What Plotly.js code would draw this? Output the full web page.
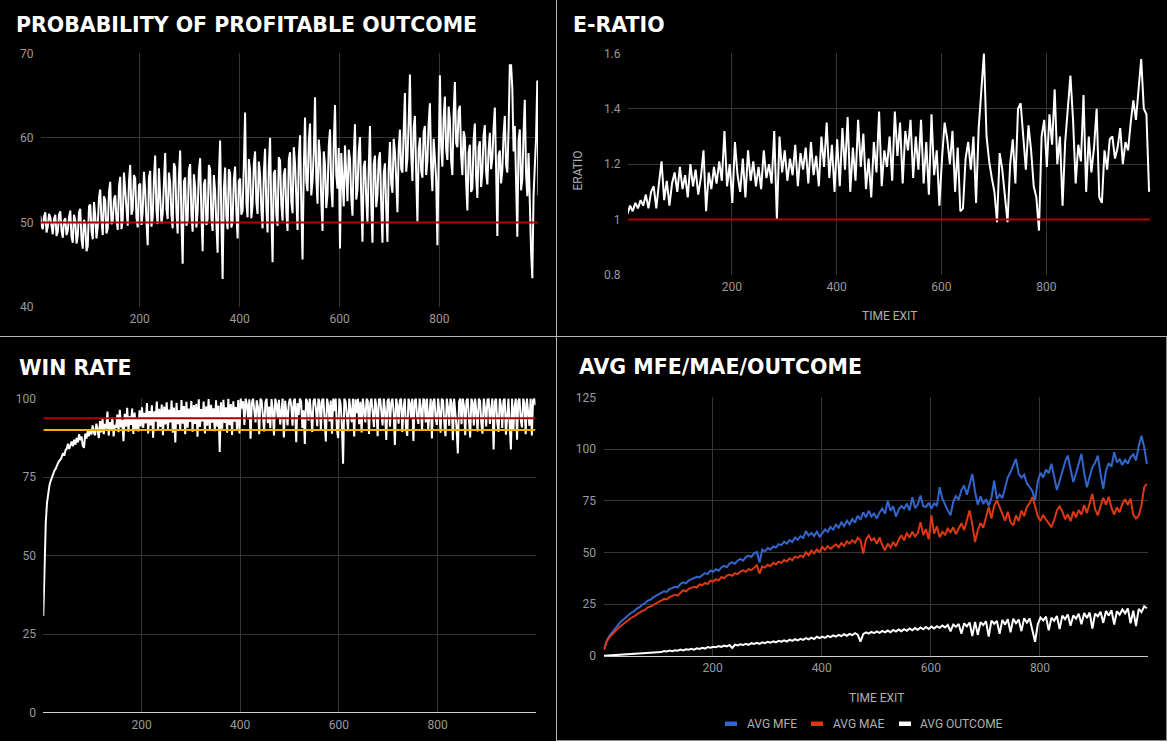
<!DOCTYPE html>
<html>
<head>
<meta charset="utf-8">
<script src="https://cdn.plot.ly/plotly-3.0.1.min.js"></script>
<style>
html,body{margin:0;padding:0;background:#000;}
#chart{width:1167px;height:741px;}
</style>
</head>
<body>
<div id="chart"></div>
<script>
// ---------- DATA ----------
// Panels 1 and 3 are sampled every 2.5 bars, panels 2 and 4 every 5 bars, starting at bar 1
var FINE_STEP = 2.5, FINE_POINTS = 400;
var COARSE_STEP = 5, COARSE_POINTS = 200;
var TIME_START = 1;

var probProfitable = [
50.8,49.6,49.2,50.7,51.2,48.8,49.5,51.0,50.6,49.3,48.6,50.4,50.9,48.4,48.9,50.9,51.3,49.0,48.2,50.2,50.5,48.5,49.0,50.6,
51.4,48.3,47.6,50.9,50.2,47.5,48.4,51.2,51.6,48.0,46.9,50.3,49.8,46.6,47.2,51.9,
52.1,49.0,48.0,52.4,50.8,48.1,49.5,52.9,53.9,50.2,48.5,53.1,52.6,48.7,49.3,53.6,54.8,49.8,50.1,52.7,
53.2,50.4,49.1,54.2,55.4,49.2,50.3,55.9,53.7,50.8,49.6,54.9,56.8,50.9,51.5,55.6,55.2,50.6,49.4,54.4,
54.6,49.7,51.2,56.0,53.8,50.2,47.3,55.3,56.1,49.5,50.6,55.1,57.9,51.4,49.8,56.4,53.4,49.9,51.0,55.8,
58.2,51.6,50.4,55.9,54.7,50.9,49.3,57.0,56.5,51.2,48.7,55.5,58.5,50.3,45.1,54.8,55.3,49.6,50.2,56.2,
56.9,50.8,48.9,55.7,54.2,49.4,51.3,56.1,57.6,51.0,46.6,54.5,55.1,49.7,50.4,56.8,56.3,50.5,49.0,55.6,
53.7,49.8,46.4,55.4,59.7,50.2,43.3,53.9,56.5,50.7,49.2,56.3,55.8,49.4,50.1,55.1,56.6,51.2,48.1,54.9,
55.2,50.9,51.4,56.8,63.0,52.3,50.6,57.5,56.2,50.5,52.1,56.9,58.4,52.4,51.0,57.2,55.7,51.6,49.3,55.9,
58.7,51.8,48.8,56.6,60.0,51.2,45.3,55.8,56.2,50.9,49.6,57.7,57.3,52.1,50.2,55.6,56.4,51.3,49.0,57.4,
58.3,52.4,51.1,58.9,57.0,53.0,49.1,57.8,60.3,52.2,45.6,56.4,62.4,54.8,53.7,59.6,61.7,53.2,54.9,58.3,
64.8,55.3,52.2,59.8,58.0,52.6,49.0,58.4,56.9,51.7,53.3,59.0,61.0,54.1,51.8,59.3,63.9,55.6,54.0,58.8,
46.9,58.2,55.2,51.9,59.1,54.7,52.5,58.6,57.5,53.0,50.8,57.9,61.6,52.7,53.8,58.4,60.1,52.9,47.7,56.6,
57.3,52.8,49.9,56.4,61.4,52.3,47.6,56.9,57.9,51.8,53.2,57.4,58.3,52.1,47.6,55.8,57.0,51.6,47.7,56.3,
59.5,54.6,53.5,59.9,58.4,55.2,51.2,58.7,61.0,56.3,55.9,60.8,65.3,56.0,57.6,61.9,67.5,58.1,54.9,61.2,
62.6,55.8,50.1,58.6,60.0,56.1,55.3,60.7,61.4,55.6,57.3,61.8,64.1,56.5,53.7,59.9,57.8,55.2,47.3,59.4,
67.4,58.9,56.6,62.4,64.9,58.6,57.4,63.7,62.1,57.3,55.6,62.9,66.6,59.4,58.9,63.2,63.8,57.9,55.6,60.8,
60.0,54.8,51.4,58.3,59.2,53.6,54.0,59.8,61.7,55.4,52.9,58.9,59.6,54.2,56.0,60.3,61.5,55.9,54.5,58.5,
60.6,56.3,57.6,61.2,63.6,56.4,48.4,57.9,58.5,54.6,56.2,60.4,62.6,56.8,55.9,61.0,68.6,68.6,65.8,58.4,
61.4,54.9,48.3,59.7,61.0,53.8,55.1,60.6,64.5,55.7,53.1,58.2,50.0,46.6,43.4,53.2,56.6,60.0,66.8,53.2
];

var eRatio = [
1.02,1.05,1.03,1.06,1.04,1.07,1.05,1.09,1.04,1.10,
1.12,1.04,1.13,1.21,1.07,1.14,1.05,1.13,1.17,1.10,
1.19,1.11,1.16,1.08,1.20,1.12,1.18,1.09,1.15,1.25,
1.03,1.17,1.11,1.19,1.13,1.21,1.14,1.32,1.12,1.20,
1.06,1.28,1.16,1.10,1.22,1.08,1.25,1.14,1.21,1.12,
1.19,1.11,1.25,1.15,1.20,1.13,1.32,1.00,1.30,1.17,
1.25,1.14,1.22,1.16,1.27,1.12,1.24,1.18,1.26,1.13,
1.28,1.16,1.23,1.12,1.30,1.19,1.35,1.15,1.27,1.10,
1.29,1.12,1.33,1.18,1.37,1.10,1.26,1.14,1.36,1.19,
1.31,1.11,1.22,1.08,1.28,1.17,1.39,1.12,1.25,1.19,
1.30,1.14,1.39,1.23,1.35,1.13,1.32,1.25,1.36,1.15,
1.30,1.18,1.36,1.13,1.28,1.09,1.38,1.16,1.25,1.05,
1.22,1.35,1.29,1.20,1.32,1.10,1.26,1.03,1.04,1.22,
1.28,1.18,1.30,1.06,1.33,1.45,1.60,1.30,1.21,1.15,
1.10,0.99,1.24,1.18,1.08,0.99,1.20,1.29,1.13,1.40,
1.42,1.30,1.18,1.34,1.25,1.12,1.08,0.96,1.30,1.36,
1.19,1.38,1.27,1.47,1.20,1.30,1.05,1.28,1.40,1.52,
1.36,1.13,1.27,1.21,1.45,1.10,1.30,1.17,1.26,1.40,
1.08,1.06,1.25,1.18,1.29,1.30,1.22,1.26,1.33,1.20,
1.28,1.25,1.35,1.43,1.36,1.48,1.58,1.40,1.38,1.10
];

var winRate = [
30.8,50.0,60.5,66.8,70.2,72.4,73.8,75.0,76.0,77.0,77.6,78.8,79.5,80.2,80.6,81.5,82.6,81.8,83.5,84.0,
85.6,83.9,85.2,86.3,84.8,86.9,85.3,87.4,86.0,88.6,86.7,87.9,85.0,84.3,88.8,87.2,89.6,88.0,90.2,88.5,
91.4,89.0,88.3,92.0,90.1,87.4,92.8,89.2,93.6,88.6,91.9,90.4,95.8,88.2,92.5,89.8,94.0,87.9,91.6,90.6,
94.9,89.3,96.4,90.8,93.2,86.4,95.1,91.0,97.0,89.4,94.3,91.6,96.8,88.7,95.5,90.2,93.8,89.5,96.2,91.1,
97.2,90.6,95.4,92.1,98.5,88.9,96.0,91.4,97.8,87.5,95.9,92.6,99.0,89.8,96.7,90.9,98.1,88.3,97.4,91.7,
98.8,90.2,96.5,92.4,99.3,89.1,97.1,86.0,98.6,91.8,96.3,89.7,99.5,92.0,97.6,88.6,98.9,90.7,96.8,92.5,
99.2,89.4,97.9,91.9,98.3,87.8,99.7,90.9,96.6,92.7,99.0,88.9,97.5,91.3,99.8,90.0,98.0,92.3,96.9,89.6,
99.4,91.0,97.7,83.0,98.8,90.4,99.6,92.2,97.2,89.1,99.9,91.5,98.2,88.4,99.1,92.6,97.3,90.3,99.5,88.9,
100,96.8,99.1,91.6,100,98.2,93.4,99.7,87.2,98.4,100,95.1,92.4,99.4,97.3,88.6,100,99.2,94.0,89.5,
98.7,100,92.1,97.4,90.5,99.8,96.3,88.2,100,98.1,93.9,99.6,91.7,97.0,100,87.6,99.3,95.8,91.4,98.4,
100,97.6,91.3,99.1,100,86.1,98.5,94.7,100,99.0,90.6,96.2,85.5,100,98.8,92.9,100,95.4,89.3,99.2,
100,96.7,91.2,100,98.6,89.9,99.5,100,93.1,86.3,100,97.8,92.7,99.3,88.8,100,96.0,100,90.1,87.4,
100,98.3,91.5,79.2,100,99.0,94.6,89.6,100,97.1,92.5,100,87.9,99.7,95.3,100,91.8,98.9,89.2,100,
96.4,92.4,100,99.3,88.7,98.5,100,93.6,90.9,100,97.2,88.0,99.6,100,94.8,91.4,100,96.1,86.8,99.2,
100,91.0,98.6,100,95.5,85.2,100,97.9,92.0,99.4,100,89.3,96.8,100,90.6,88.1,100,98.5,93.7,100,
86.5,99.1,100,94.2,91.9,100,97.0,89.8,100,99.5,92.4,100,90.2,96.6,100,87.3,98.9,100,93.8,91.6,
100,96.1,89.1,100,99.4,92.5,88.0,100,97.3,91.3,100,98.7,86.7,100,95.0,90.7,82.5,99.0,100,91.8,
100,97.5,88.3,99.4,100,93.6,87.6,100,98.8,91.4,100,95.9,89.5,100,99.2,92.3,88.8,100,97.0,91.1,
99.7,100,91.9,96.4,100,83.8,98.9,100,92.2,89.4,100,97.6,90.6,99.4,100,88.5,95.2,100,92.0,83.8,
100,89.7,97.3,100,86.9,99.2,100,93.1,90.8,100,98.4,88.6,100,96.5,91.3,100,88.2,99.5,100,97.8
];
var winRateRedLine = 93.7;
var winRateGoldLine = 90;
var probBreakEven = 50;
var eRatioBreakEven = 1;

var avgMFE = [
3.2,7.5,9.8,11.6,13.4,14.9,16.4,17.5,18.9,19.8,
20.9,21.6,22.9,23.6,24.8,25.4,26.8,27.2,28.3,28.9,
29.8,30.5,31.3,31.0,32.4,32.8,33.5,33.2,34.8,35.6,
35.1,36.4,36.9,37.5,38.3,38.0,39.2,40.1,39.6,41.3,
40.7,41.9,41.2,42.8,43.6,42.9,44.7,45.3,44.6,46.2,
46.9,46.1,47.8,48.5,47.9,49.6,50.3,45.2,51.4,50.6,
52.2,51.5,53.0,52.4,54.1,53.6,55.2,54.3,56.0,55.1,
57.3,56.2,58.0,57.1,60.4,58.2,59.5,58.0,60.1,57.8,
59.3,61.2,60.0,62.4,61.1,63.5,62.0,64.6,62.8,65.4,
63.6,66.3,64.5,67.8,65.9,69.5,67.0,70.2,67.4,68.8,
66.5,69.4,71.3,68.7,75.1,70.2,72.4,67.3,70.8,72.5,
71.2,73.6,70.4,76.8,71.5,73.2,77.6,72.4,72.0,74.1,
71.3,73.8,72.5,81.6,76.2,72.8,70.4,68.0,74.5,77.3,
75.6,80.2,82.4,78.0,83.5,88.0,79.4,73.1,77.2,73.5,
75.8,72.6,76.4,84.8,75.9,78.1,76.3,82.1,86.4,88.9,
92.5,95.3,88.0,86.2,87.6,83.4,81.7,79.8,75.2,84.5,
88.6,86.3,90.1,88.4,92.9,85.7,80.2,84.6,89.3,93.8,
96.9,89.5,84.1,88.2,93.6,97.7,88.4,81.6,86.5,91.2,
93.4,96.9,88.0,80.8,89.7,93.2,91.5,98.5,93.6,95.1,
92.3,94.8,93.0,96.2,97.5,94.6,101.4,106.5,100.9,92.9
];

var avgMAE = [
3.1,7.0,9.0,10.6,12.1,13.3,14.4,15.5,16.6,17.4,
18.5,19.2,20.1,20.7,21.8,22.3,23.5,23.9,24.8,25.4,
26.2,26.8,27.6,27.3,28.5,29.1,29.6,29.2,30.5,31.8,
31.2,32.4,32.9,33.5,33.1,34.6,34.2,35.3,34.8,36.4,
36.0,37.1,36.5,38.2,37.6,38.9,39.4,38.8,40.1,39.6,
40.8,41.4,40.7,42.0,41.5,42.6,43.9,39.8,43.3,42.7,
44.1,43.4,45.0,44.2,45.6,45.0,46.4,45.7,47.2,46.3,
48.0,47.4,48.6,47.8,50.2,48.7,50.9,49.6,51.5,50.2,
52.7,51.4,53.1,51.8,52.7,54.0,52.5,54.6,53.2,55.4,
54.3,56.0,54.7,57.1,55.9,49.5,56.3,58.3,55.8,56.9,
54.2,57.3,53.5,51.0,54.3,52.4,55.1,53.0,56.2,58.4,
55.9,59.6,57.2,60.1,57.8,59.4,64.7,58.5,61.3,56.4,
68.0,59.2,62.7,57.4,60.0,58.6,61.5,59.8,62.2,58.9,
61.6,64.2,60.8,66.1,70.4,63.5,55.1,60.7,64.3,62.0,
67.8,72.0,66.5,72.6,75.2,71.8,69.3,65.4,69.7,64.6,
63.1,67.9,65.2,70.3,67.6,72.1,73.8,76.8,72.5,67.4,
65.3,68.2,66.0,64.4,62.3,65.8,70.4,72.3,69.9,66.1,
68.5,65.2,69.8,67.0,70.6,68.3,72.9,69.1,74.2,78.4,
71.0,68.0,72.4,76.5,73.1,77.0,71.6,68.4,71.9,69.5,
73.6,75.8,73.0,76.1,68.2,66.5,67.9,72.8,81.6,83.2
];

var avgOutcome = [
0.1,0.2,0.3,0.35,0.5,0.6,0.6,0.8,0.9,0.8,
1.1,1.0,1.3,1.2,1.5,1.4,1.7,1.5,1.9,1.8,
2.1,1.9,2.4,2.2,2.6,2.3,2.8,2.6,3.1,2.7,
3.2,3.0,3.5,3.1,3.7,3.4,4.0,3.6,4.3,4.0,
4.5,4.2,4.8,4.4,5.0,4.6,5.3,3.9,5.5,5.1,
5.7,5.3,5.9,5.4,6.2,5.8,6.4,5.9,6.6,6.2,
6.9,6.4,7.1,6.6,7.3,6.9,7.6,7.0,7.9,7.3,
8.1,7.5,8.3,7.8,8.6,8.0,8.9,8.2,9.3,8.6,
9.4,8.8,9.7,9.1,10.0,9.4,10.2,9.6,10.5,9.8,
10.7,10.1,11.0,10.3,6.9,10.6,11.4,10.8,11.7,11.1,
11.9,11.2,12.1,11.4,12.3,11.5,12.6,11.8,12.8,12.0,
13.0,12.2,13.3,12.4,13.5,12.7,13.8,12.9,14.0,13.1,
14.2,13.3,14.4,13.6,14.7,13.8,15.0,11.9,15.2,14.1,
15.5,10.8,15.8,14.3,16.2,9.6,16.5,10.2,16.3,15.0,
16.8,9.4,17.1,15.6,16.9,10.7,17.4,15.2,17.8,11.4,
18.0,15.8,17.6,12.0,18.3,16.1,18.1,12.6,6.9,15.4,
18.6,17.2,19.0,12.4,18.5,17.0,19.3,13.0,19.5,17.8,
20.1,14.6,19.6,18.0,20.4,15.3,20.8,18.4,21.0,13.3,
20.5,19.2,21.4,16.0,21.8,19.5,22.2,15.2,21.6,20.0,
22.5,20.6,23.0,15.8,21.9,14.5,22.8,21.2,24.0,23.1
];

var xTickVals = [200, 400, 600, 800];
var panelTitles = ["PROBABILITY OF PROFITABLE OUTCOME", "E-RATIO", "WIN RATE", "AVG MFE/MAE/OUTCOME"];
var seriesNames = ["AVG MFE", "AVG MAE", "AVG OUTCOME"];

// ---------- BUILD ----------
function timeAxis(step, n) {
  var a = [];
  for (var i = 0; i < n; i++) a.push(TIME_START + step * i);
  return a;
}
var timeFine = timeAxis(FINE_STEP, FINE_POINTS);
var timeCoarse = timeAxis(COARSE_STEP, COARSE_POINTS);
var xEnds = [1, 998];

var W = 1167, H = 741;
function px(x) { return x / W; }
function py(y) { return 1 - y / H; }

var WHITE = '#ffffff', DARKRED = '#b00000', GOLD = '#f2b100';
var BLUE = '#3366cc', RED = '#dc3912';

var traces = [
  {x: timeFine, y: probProfitable, xaxis: 'x', yaxis: 'y', mode: 'lines', line: {color: WHITE, width: 2}, name: 'Probability'},
  {x: xEnds, y: [probBreakEven, probBreakEven], xaxis: 'x', yaxis: 'y', mode: 'lines', line: {color: DARKRED, width: 2}, name: 'break even'},

  {x: timeCoarse, y: eRatio, xaxis: 'x2', yaxis: 'y2', mode: 'lines', line: {color: WHITE, width: 2}, name: 'ERATIO'},
  {x: xEnds, y: [eRatioBreakEven, eRatioBreakEven], xaxis: 'x2', yaxis: 'y2', mode: 'lines', line: {color: DARKRED, width: 2}, name: 'break even'},

  {x: timeFine, y: winRate, xaxis: 'x3', yaxis: 'y3', mode: 'lines', line: {color: WHITE, width: 2}, name: 'Win rate'},
  {x: xEnds, y: [winRateRedLine, winRateRedLine], xaxis: 'x3', yaxis: 'y3', mode: 'lines', line: {color: DARKRED, width: 2}, name: 'ref 1'},
  {x: xEnds, y: [winRateGoldLine, winRateGoldLine], xaxis: 'x3', yaxis: 'y3', mode: 'lines', line: {color: GOLD, width: 2}, name: 'ref 2'},

  {x: timeCoarse, y: avgMFE, xaxis: 'x4', yaxis: 'y4', mode: 'lines', line: {color: BLUE, width: 2}, name: seriesNames[0]},
  {x: timeCoarse, y: avgMAE, xaxis: 'x4', yaxis: 'y4', mode: 'lines', line: {color: RED, width: 2}, name: seriesNames[1]},
  {x: timeCoarse, y: avgOutcome, xaxis: 'x4', yaxis: 'y4', mode: 'lines', line: {color: WHITE, width: 2}, name: seriesNames[2]}
];

var tickFont = {family: 'Roboto, Arial, sans-serif', size: 12, color: '#9a9a9a'};
var GRID = '#353535';

function xAxis(domain, range, anchor) {
  return {domain: domain, range: range, anchor: anchor, tickmode: 'array', tickvals: xTickVals,
    showgrid: true, gridcolor: GRID, gridwidth: 1, zeroline: false, showline: false,
    ticks: 'outside', ticklen: 1, tickcolor: 'rgba(0,0,0,0)', tickfont: tickFont, fixedrange: true};
}
function yAxis(domain, range, tickvals, anchor, zl) {
  return {domain: domain, range: range, anchor: anchor, tickmode: 'array', tickvals: tickvals,
    showgrid: true, gridcolor: GRID, gridwidth: 1, zeroline: !!zl, zerolinecolor: '#cfcfcf', zerolinewidth: 1,
    showline: false, ticks: 'outside', ticklen: 4, tickcolor: 'rgba(0,0,0,0)', tickfont: tickFont, fixedrange: true};
}

var layout = {
  width: W, height: H,
  margin: {l: 0, r: 0, t: 0, b: 0},
  paper_bgcolor: '#000000', plot_bgcolor: '#000000',
  showlegend: false,
  xaxis: xAxis([px(40.8), px(538)], [2, 997.4], 'y'),
  yaxis: yAxis([py(307), py(53.3)], [39.99, 70.01], [40, 50, 60, 70], 'x'),
  xaxis2: xAxis([px(628), px(1150)], [2, 997.8], 'y2'),
  yaxis2: yAxis([py(275), py(53.3)], [0.7995, 1.6005], [0.8, 1, 1.2, 1.4, 1.6], 'x2'),
  xaxis3: xAxis([px(43.3), px(535.5)], [1, 998.4], 'y3'),
  yaxis3: yAxis([py(712.7), py(398.3)], [0, 100.05], [0, 25, 50, 75, 100], 'x3', true),
  xaxis4: xAxis([px(603.5), px(1148.4)], [0, 998.7], 'y4'),
  yaxis4: yAxis([py(656), py(397.3)], [0, 125.05], [0, 25, 50, 75, 100, 125], 'x4', true),
  shapes: [
    {type: 'line', xref: 'paper', yref: 'paper', x0: px(556.5), x1: px(556.5), y0: 0, y1: 1, line: {color: '#b4b4b4', width: 1}},
    {type: 'line', xref: 'paper', yref: 'paper', x0: 0, x1: 1, y0: py(336.5), y1: py(336.5), line: {color: '#b4b4b4', width: 1}},
    {type: 'line', xref: 'paper', yref: 'paper', x0: px(1166.5), x1: px(1166.5), y0: 0, y1: py(336.5), line: {color: '#8a8a8a', width: 1}},
    {type: 'line', xref: 'paper', yref: 'paper', x0: px(556.5), x1: 1, y0: py(740.5), y1: py(740.5), line: {color: '#8a8a8a', width: 1}},
    // legend swatches
    {type: 'rect', xref: 'paper', yref: 'paper', x0: px(725), x1: px(737), y0: py(726), y1: py(721.5), fillcolor: BLUE, line: {width: 0}},
    {type: 'rect', xref: 'paper', yref: 'paper', x0: px(811), x1: px(823), y0: py(726), y1: py(721.5), fillcolor: RED, line: {width: 0}},
    {type: 'rect', xref: 'paper', yref: 'paper', x0: px(899), x1: px(911), y0: py(726), y1: py(721.5), fillcolor: WHITE, line: {width: 0}}
  ],
  annotations: []
};

var titleFont = {family: '"DejaVu Sans", Verdana, sans-serif', size: 20.5, color: '#ffffff', weight: 'bold'};
var titlePos = [[14, 24.8], [570.6, 24.8], [17.4, 367.8], [577.2, 366.8]];
for (var t = 0; t < panelTitles.length; t++) {
  layout.annotations.push({text: '<b>' + panelTitles[t] + '</b>', xref: 'paper', yref: 'paper',
    x: px(titlePos[t][0]), y: py(titlePos[t][1]), xanchor: 'left', yanchor: 'middle', showarrow: false, font: titleFont});
}
var axisTitleFont = {family: 'Roboto, Arial, sans-serif', size: 12, color: '#b0b0b0'};
layout.annotations.push({text: 'TIME EXIT', xref: 'paper', yref: 'paper', x: px(889), y: py(316), xanchor: 'center', yanchor: 'middle', showarrow: false, font: axisTitleFont});
layout.annotations.push({text: 'TIME EXIT', xref: 'paper', yref: 'paper', x: px(876), y: py(697.7), xanchor: 'center', yanchor: 'middle', showarrow: false, font: axisTitleFont});
layout.annotations.push({text: 'ERATIO', xref: 'paper', yref: 'paper', x: px(577), y: py(170.5), xanchor: 'center', yanchor: 'middle', textangle: -90, showarrow: false, font: axisTitleFont});
var legX = [745, 831, 918];
for (var s = 0; s < seriesNames.length; s++) {
  layout.annotations.push({text: seriesNames[s], xref: 'paper', yref: 'paper', x: px(legX[s]), y: py(723.7),
    xanchor: 'left', yanchor: 'middle', showarrow: false, font: axisTitleFont});
}

Plotly.newPlot('chart', traces, layout, {displayModeBar: false, staticPlot: true});
</script>
</body>
</html>
